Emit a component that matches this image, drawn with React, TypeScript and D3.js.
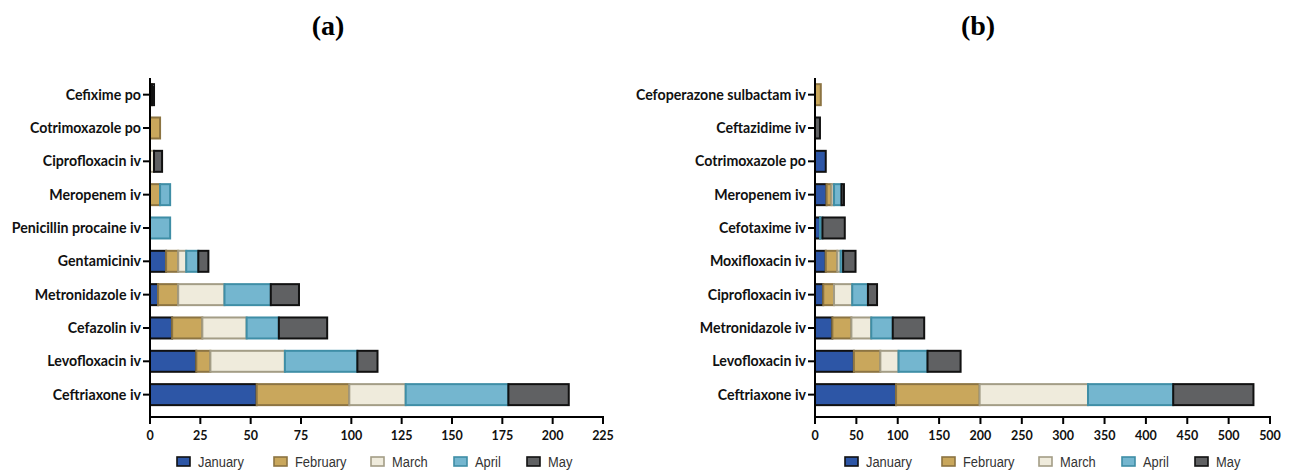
import { useMemo } from "react";
import * as d3 from "d3";

const months = ["January", "February", "March", "April", "May"];

// panel (a), listed top to bottom
const drugsA = [
  "Cefixime po",
  "Cotrimoxazole po",
  "Ciprofloxacin iv",
  "Meropenem iv",
  "Penicillin procaine iv",
  "Gentamiciniv",
  "Metronidazole iv",
  "Cefazolin iv",
  "Levofloxacin iv",
  "Ceftriaxone iv",
];
const janA = [0, 0, 0, 0, 0, 8, 4, 11, 23, 53];
const febA = [1, 5, 0, 5, 0, 6, 10, 15, 7, 46];
const marA = [0, 0, 2, 0, 0, 4, 23, 22, 37, 28];
const aprA = [0, 0, 0, 5, 10, 6, 23, 16, 36, 51];
const mayA = [1, 0, 4, 0, 0, 5, 14, 24, 10, 30];
const ticksA = [0, 25, 50, 75, 100, 125, 150, 175, 200, 225];
const tickLabelsA = ["0", "25", "50", "75", "100", "125", "150", "175", "200", "225"];

// panel (b), listed top to bottom
const drugsB = [
  "Cefoperazone sulbactam iv",
  "Ceftazidime iv",
  "Cotrimoxazole po",
  "Meropenem iv",
  "Cefotaxime iv",
  "Moxifloxacin iv",
  "Ciprofloxacin iv",
  "Metronidazole iv",
  "Levofloxacin iv",
  "Ceftriaxone iv",
];
const janB = [0, 0, 13, 14, 6, 13, 10, 21, 47, 98];
const febB = [7, 0, 0, 6, 0, 14, 13, 23, 32, 101];
const marB = [0, 0, 0, 3, 0, 4, 22, 24, 22, 131];
const aprB = [0, 0, 0, 9, 3, 3, 19, 26, 35, 103];
const mayB = [0, 6, 0, 3, 27, 15, 11, 38, 40, 97];
const ticksB = [0, 50, 100, 150, 200, 250, 300, 350, 400, 450, 500, 550];
const tickLabelsB = ["0", "50", "100", "150", "200", "250", "300", "350", "400", "450", "500", "500"];

const fills = ["#2d56a6", "#c9a75c", "#efebdc", "#74b6cf", "#606163"];
const strokes = ["#111", "#8c7442", "#a39d86", "#3f8ea6", "#111"];

const width = 1294;
const height = 470;
const axisTop = 78;
const axisY = 417;
const labelFont = "Lato, 'Open Sans', sans-serif";
const legendFont = "'Liberation Sans', Arial, sans-serif";
const legendOffsets = [0, 97, 194, 277, 350];

type PanelProps = {
  drugs: string[];
  series: number[][];
  ticks: number[];
  tickLabels: string[];
  x0: number;
  x1: number;
  title: string;
  titleX: number;
  legendX: number;
};

function Panel({ drugs, series, ticks, tickLabels, x0, x1, title, titleX, legendX }: PanelProps) {
  const rows = useMemo(
    () =>
      drugs.map((d, i) => {
        const row: Record<string, any> = { drug: d };
        months.forEach((m, k) => (row[m] = series[k][i]));
        return row;
      }),
    [drugs, series]
  );
  const stacked = d3.stack<any>().keys(months)(rows);

  const x = d3.scaleLinear().domain([0, ticks[ticks.length - 1]]).range([x0, x1]);
  const y = d3
    .scaleBand()
    .domain(drugs)
    .range([axisTop, 411.3])
    .paddingInner(0.37)
    .paddingOuter(0.185);

  return (
    <g>
      <text
        x={titleX}
        y={35}
        textAnchor="middle"
        fontFamily="'Liberation Serif', 'Times New Roman', serif"
        fontWeight={700}
        fontSize={28}
        fill="#000"
      >
        {title}
      </text>

      {stacked.map((layer, k) => (
        <g key={layer.key}>
          {layer.map((seg, i) =>
            seg[1] - seg[0] > 0 ? (
              <rect
                key={drugs[i]}
                x={x(seg[0])}
                y={y(drugs[i])}
                width={x(seg[1]) - x(seg[0])}
                height={y.bandwidth()}
                fill={fills[k]}
                stroke={strokes[k]}
                strokeWidth={2}
              />
            ) : null
          )}
        </g>
      ))}

      {/* y axis */}
      <line x1={x0} x2={x0} y1={axisTop} y2={axisY + 1} stroke="#000" strokeWidth={2} />
      {drugs.map((d) => {
        const cy = (y(d) ?? 0) + y.bandwidth() / 2;
        return (
          <g key={d}>
            <line x1={x0 - 7} x2={x0} y1={cy} y2={cy} stroke="#000" strokeWidth={2} />
            <text
              x={x0 - 9}
              y={cy}
              dy="0.36em"
              textAnchor="end"
              fontFamily={labelFont}
              fontWeight={700}
              fontSize={14.2}
              fill="#111"
            >
              {d}
            </text>
          </g>
        );
      })}

      {/* x axis */}
      <line x1={x0 - 1} x2={x1 + 1} y1={axisY} y2={axisY} stroke="#000" strokeWidth={2} />
      {ticks.map((t, i) => (
        <g key={t}>
          <line x1={x(t)} x2={x(t)} y1={axisY} y2={axisY + 7} stroke="#000" strokeWidth={2} />
          <text
            x={x(t)}
            y={440}
            textAnchor="middle"
            fontFamily={labelFont}
            fontWeight={700}
            fontSize={12.5}
            fill="#111"
          >
            {tickLabels[i]}
          </text>
        </g>
      ))}

      {/* legend */}
      {months.map((m, k) => (
        <g key={m} transform={`translate(${legendX + legendOffsets[k]}, 457)`}>
          <rect x={0} y={0} width={13} height={9} fill={fills[k]} stroke={strokes[k]} strokeWidth={1.6} />
          <text
            transform="translate(21, 9.5) scale(0.86, 1)"
            fontFamily={legendFont}
            fontSize={15}
            fill="#333"
          >
            {m}
          </text>
        </g>
      ))}
    </g>
  );
}

export default function App() {
  return (
    <svg
      width={width}
      height={height}
      viewBox={`0 0 ${width} ${height}`}
      style={{ position: "absolute", left: 0, top: 0, background: "#fff" }}
    >
      <rect width={width} height={height} fill="#fff" />
      <Panel
        drugs={drugsA}
        series={[janA, febA, marA, aprA, mayA]}
        ticks={ticksA}
        tickLabels={tickLabelsA}
        x0={150}
        x1={603}
        title="(a)"
        titleX={328}
        legendX={177}
      />
      <Panel
        drugs={drugsB}
        series={[janB, febB, marB, aprB, mayB]}
        ticks={ticksB}
        tickLabels={tickLabelsB}
        x0={815}
        x1={1270}
        title="(b)"
        titleX={978}
        legendX={845}
      />
    </svg>
  );
}
